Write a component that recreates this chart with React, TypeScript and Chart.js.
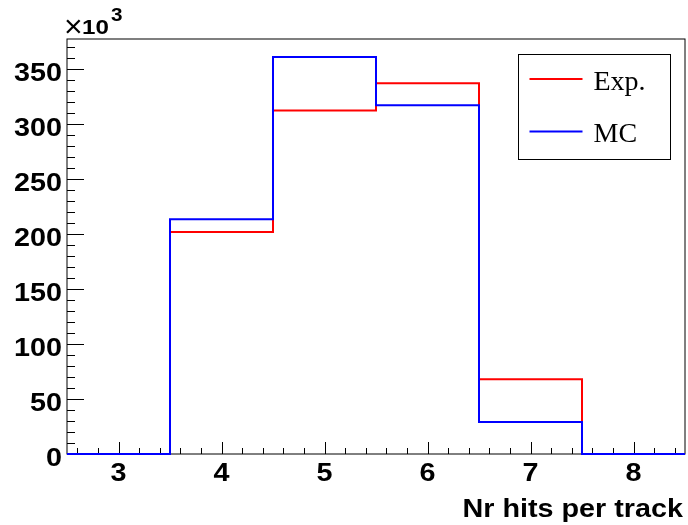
import React, { useEffect, useRef } from 'react';
import { Chart, registerables } from 'chart.js';

Chart.register(...registerables);

// Histogram data (counts in units of 10^3)
const binCenters = [3, 4, 5, 6, 7, 8];
const binWidth = 1;
const expCounts = [0, 201.8, 312.4, 337.0, 67.9, 0];
const mcCounts = [0, 213.4, 361.0, 317.0, 29.1, 0];
const seriesLabels = ['Exp.', 'MC'];
const seriesColors = ['#ff0000', '#0000ff'];
const xTickValues = [3, 4, 5, 6, 7, 8];
const yTickValues = [0, 50, 100, 150, 200, 250, 300, 350];
const xRange = [2.5, 8.5];
const yRange = [0, 377.3];
const xAxisTitle = 'Nr hits per track';
const yExponent = '3';

const SANS = '"Liberation Sans", Arial, Helvetica, sans-serif';
const SERIF = '"Liberation Serif", "Times New Roman", serif';
const STRETCH = 1.15;

function toSteps(centers: number[], counts: number[]) {
  const pts: { x: number; y: number }[] = [];
  centers.forEach((c, i) => {
    pts.push({ x: c - binWidth / 2, y: counts[i] });
    pts.push({ x: c + binWidth / 2, y: counts[i] });
  });
  return pts;
}

function drawText(ctx: any, text: string, x: number, y: number, font: string, align: string, stretch = STRETCH) {
  ctx.save();
  ctx.translate(x, y);
  ctx.scale(stretch, 1);
  ctx.font = font;
  ctx.textAlign = align;
  ctx.textBaseline = 'alphabetic';
  ctx.fillStyle = '#000';
  ctx.fillText(text, 0, 0);
  const w = ctx.measureText(text).width * stretch;
  ctx.restore();
  return w;
}

const rootFramePlugin = {
  id: 'rootFrame',
  beforeDatasetsDraw(chart: any) {
    const { ctx, chartArea: ca, scales } = chart;
    const xs = scales.x;
    const ys = scales.y;
    ctx.save();
    ctx.strokeStyle = '#000';
    ctx.lineWidth = 1;
    ctx.strokeRect(ca.left, ca.top, ca.right - ca.left, ca.bottom - ca.top);
    ctx.beginPath();
    // x ticks (major + minor)
    for (let k = Math.ceil(xRange[0] * 5); k <= Math.floor(xRange[1] * 5); k++) {
      const v = k / 5;
      if (v <= xRange[0] || v >= xRange[1]) continue;
      const isMajor = xTickValues.some((t) => Math.abs(t - v) < 1e-6);
      const len = isMajor ? 12 : 6;
      const px = Math.round(xs.getPixelForValue(v)) + 0.5;
      ctx.moveTo(px, ca.bottom);
      ctx.lineTo(px, ca.bottom - len);
    }
    // y ticks (major + minor)
    for (let k = 1; k * 10 < yRange[1]; k++) {
      const v = k * 10;
      const isMajor = yTickValues.some((t) => Math.abs(t - v) < 1e-6);
      const len = isMajor ? 17 : 8;
      const py = Math.round(ys.getPixelForValue(v)) + 0.5;
      ctx.moveTo(ca.left, py);
      ctx.lineTo(ca.left + len, py);
    }
    ctx.stroke();
    ctx.restore();
  },
  afterDraw(chart: any) {
    const { ctx, chartArea: ca, scales } = chart;
    const xs = scales.x;
    const ys = scales.y;
    const labelFont = `bold 25px ${SANS}`;
    // tick labels from the scales' ticks
    xs.ticks.forEach((t: any) => {
      drawText(ctx, String(t.value), xs.getPixelForValue(t.value), ca.bottom + 27, labelFont, 'center');
    });
    ys.ticks.forEach((t: any) => {
      drawText(ctx, String(t.value), ca.left - 5, ys.getPixelForValue(t.value) + 12, labelFont, 'right');
    });
    // axis title
    drawText(ctx, xAxisTitle, ca.right - 2, 517, labelFont, 'right');

    // exponent label
    drawText(ctx, '\u00d7', ca.left - 3, ca.top - 2, `32px ${SANS}`, 'left', 1);
    drawText(ctx, '10', ca.left + 15, ca.top - 5, `bold 21px ${SANS}`, 'left');
    drawText(ctx, yExponent, ca.left + 44, ca.top - 18, `bold 18px ${SANS}`, 'left');

    // legend box
    ctx.save();
    const bx = ca.right - 166.5;
    const by = ca.top + 15.5;
    const bw = 152;
    const bh = 105;
    ctx.fillStyle = '#fff';
    ctx.fillRect(bx, by, bw, bh);
    ctx.strokeStyle = '#000';
    ctx.lineWidth = 1;
    ctx.strokeRect(bx, by, bw, bh);
    const rowY = [by + 24.5, by + 77];
    seriesLabels.forEach((lab, i) => {
      ctx.strokeStyle = seriesColors[i];
      ctx.lineWidth = 2;
      ctx.beginPath();
      ctx.moveTo(bx + 11, rowY[i]);
      ctx.lineTo(bx + 64, rowY[i]);
      ctx.stroke();
      drawText(ctx, lab, bx + 75, rowY[i] + 10.5, `28px ${SERIF}`, 'left', 1);
    });
    ctx.restore();
  },
};

export default function App() {
  const ref = useRef<HTMLCanvasElement | null>(null);
  useEffect(() => {
    if (!ref.current) return;
    const chart = new Chart(ref.current, {
      type: 'line',
      data: {
        datasets: [
          {
            label: seriesLabels[0],
            data: toSteps(binCenters, expCounts),
            borderColor: seriesColors[0],
            borderWidth: 2,
            pointRadius: 0,
            fill: false,
            tension: 0,
            clip: false,
            order: 1,
          },
          {
            label: seriesLabels[1],
            data: toSteps(binCenters, mcCounts),
            borderColor: seriesColors[1],
            borderWidth: 2,
            pointRadius: 0,
            fill: false,
            tension: 0,
            clip: false,
            order: 0,
          },
        ],
      },
      options: {
        animation: false,
        responsive: false,
        devicePixelRatio: 1,
        layout: { padding: { top: 39, right: 3, left: 0, bottom: 0 } },
        plugins: { legend: { display: false }, tooltip: { enabled: false } },
        scales: {
          x: {
            type: 'linear',
            min: xRange[0],
            max: xRange[1],
            grid: { display: false, drawTicks: false },
            border: { display: false },
            afterBuildTicks: (s: any) => {
              s.ticks = xTickValues.map((v) => ({ value: v }));
            },
            afterFit: (s: any) => {
              s.height = 71;
            },
            ticks: { display: false },
            title: { display: false, text: xAxisTitle },
          },
          y: {
            type: 'linear',
            min: yRange[0],
            max: yRange[1],
            grid: { display: false, drawTicks: false },
            border: { display: false },
            afterBuildTicks: (s: any) => {
              s.ticks = yTickValues.map((v) => ({ value: v }));
            },
            afterFit: (s: any) => {
              s.width = 67;
            },
            ticks: { display: false },
          },
        },
      },
      plugins: [rootFramePlugin],
    } as any);
    return () => chart.destroy();
  }, []);
  return (
    <div style={{ position: 'absolute', left: 0, top: 0, width: 688, height: 525, background: '#fff' }}>
      <canvas ref={ref} width={688} height={525} />
    </div>
  );
}
